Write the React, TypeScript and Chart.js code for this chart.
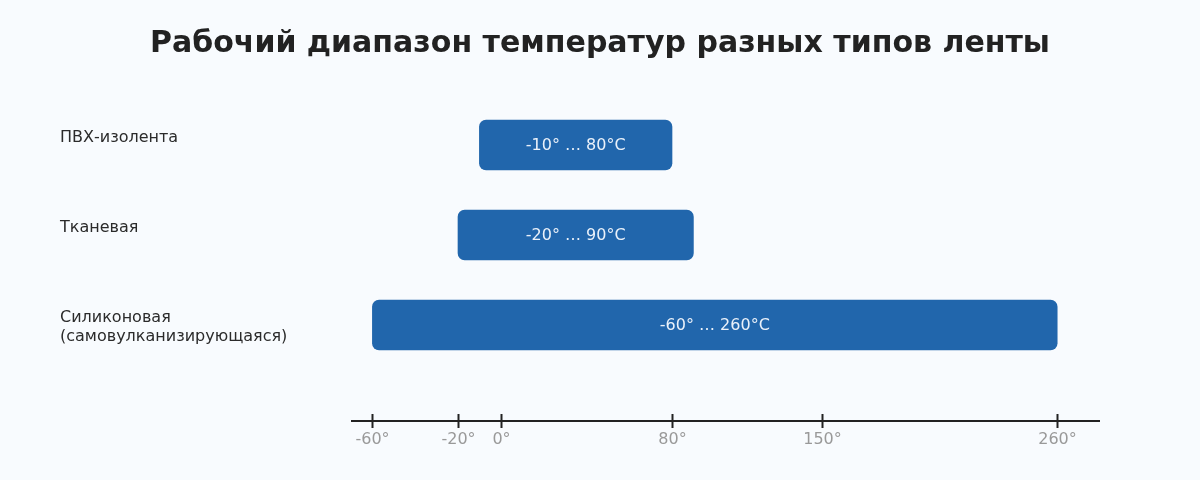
import { useEffect, useRef } from "react"
import { Chart, type ChartConfiguration, type Plugin, registerables } from "chart.js"

Chart.register(...registerables)

const categories = ["ПВХ-изолента", "Тканевая", "Силиконовая\n(самовулканизирующаяся)"]
const rangeMin = [-10, -20, -60]
const rangeMax = [80, 90, 260]
const rangeLabels = ["-10° … 80°C", "-20° … 90°C", "-60° … 260°C"]
const tickValues = [-60, -20, 0, 80, 150, 260]

const FONT = "DejaVu Sans"
Chart.defaults.font.family = FONT

// draws row labels, bar captions, the bottom axis and the title
const overlay: Plugin<"bar"> = {
  id: "overlay",
  afterDatasetsDraw(chart) {
    const { ctx, chartArea } = chart
    const x = chart.scales.x
    const y = chart.scales.y
    ctx.save()

    // row labels, top aligned
    ctx.font = `16px ${FONT}`
    ctx.fillStyle = "#2b2b2b"
    ctx.textAlign = "left"
    ctx.textBaseline = "middle"
    categories.forEach((cat, i) => {
      const cy = y.getPixelForValue(i)
      cat.split("\n").forEach((line, j) => {
        ctx.fillText(line, 60, cy - 7 + j * 19)
      })
    })

    // captions inside bars
    ctx.font = `16px ${FONT}`
    ctx.fillStyle = "#eaf1fa"
    ctx.textAlign = "center"
    rangeLabels.forEach((txt, i) => {
      const cx = (x.getPixelForValue(rangeMin[i]) + x.getPixelForValue(rangeMax[i])) / 2
      ctx.fillText(txt, cx, y.getPixelForValue(i) + 1)
    })

    // axis
    const ay = chartArea.bottom + 51
    ctx.strokeStyle = "#222"
    ctx.lineWidth = 2
    ctx.beginPath()
    ctx.moveTo(chartArea.left, ay)
    ctx.lineTo(chartArea.right, ay)
    ctx.stroke()
    ctx.fillStyle = "#999"
    ctx.font = `16px ${FONT}`
    ctx.textBaseline = "middle"
    tickValues.forEach((v) => {
      const px = Math.round(x.getPixelForValue(v)) + 0.5
      ctx.beginPath()
      ctx.moveTo(px, ay - 7)
      ctx.lineTo(px, ay + 7)
      ctx.stroke()
      ctx.fillText(`${v}°`, px, ay + 19)
    })

    // title, centred on the page
    ctx.font = `bold 30px ${FONT}`
    ctx.fillStyle = "#222"
    ctx.fillText("Рабочий диапазон температур разных типов ленты", chart.width / 2, 44)
    ctx.restore()
  },
}

export default function App() {
  const chartRef = useRef<HTMLCanvasElement>(null)
  const chartInstance = useRef<Chart | null>(null)

  useEffect(() => {
    if (!chartRef.current) return
    const ctx = chartRef.current.getContext("2d")
    if (!ctx) return

    if (chartInstance.current) {
      chartInstance.current.destroy()
    }

    const config: ChartConfiguration<"bar"> = {
      type: "bar",
      data: {
        labels: categories,
        datasets: [
          {
            data: rangeMin.map((v, i) => [v, rangeMax[i]]) as any,
            backgroundColor: "#2166ac",
            barThickness: 50,
            borderRadius: 7,
            borderSkipped: false,
          },
        ],
      },
      options: {
        indexAxis: "y",
        animation: false,
        responsive: true,
        maintainAspectRatio: false,
        layout: {
          padding: { left: 351, right: 100, top: 100, bottom: 110 },
        },
        scales: {
          x: { display: false, min: -70, max: 280 },
          y: { display: false },
        },
        plugins: {
          legend: { display: false },
          tooltip: { enabled: false },
          title: { display: false },
        },
      },
      plugins: [overlay],
    }

    chartInstance.current = new Chart(ctx, config)

    return () => {
      if (chartInstance.current) {
        chartInstance.current.destroy()
      }
    }
  }, [])

  return (
    <div style={{ position: "fixed", inset: 0, width: 1200, height: 480, background: "#f8fbfe" }}>
      <canvas ref={chartRef} />
    </div>
  )
}
